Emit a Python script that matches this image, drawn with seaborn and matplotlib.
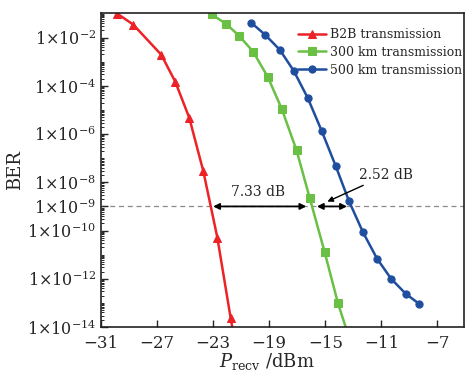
import numpy as np
import pandas as pd
import matplotlib
matplotlib.use("Agg")
import matplotlib.pyplot as plt
import seaborn as sns
from matplotlib.ticker import FixedLocator, LogLocator, NullFormatter, FixedFormatter

# ---- data ----
b2b_x = [-29.85, -28.7, -26.7, -25.7, -24.7, -23.7, -22.7, -21.75, -20.75]
b2b_exp = [-1.0, -1.46, -2.71, -3.83, -5.33, -7.54, -10.29, -13.63, -16.9]

km300_x = [-23.1, -22.1, -21.15, -20.15, -19.1, -18.1, -17.05, -16.1, -15.05, -14.1, -13.1]
km300_exp = [-1.04, -1.42, -1.92, -2.58, -3.63, -4.96, -6.67, -8.67, -10.88, -13.0, -14.8]

km500_x = [-20.3, -19.3, -18.25, -17.25, -16.25, -15.25, -14.25, -13.3, -12.3, -11.3, -10.3, -9.25, -8.3]
km500_exp = [-1.375, -1.875, -2.5, -3.375, -4.5, -5.875, -7.33, -8.79, -10.08, -11.17, -12.0, -12.625, -13.04]

series_names = ["B2B transmission", "300 km transmission", "500 km transmission"]
series_colors = ["#ec2227", "#6abf45", "#1f4e9e"]
series_markers = ["^", "s", "o"]

xticks = [-31, -27, -23, -19, -15, -11, -7]
ytick_exps = [-2, -4, -6, -8, -9, -10, -12, -14]
threshold = 1e-9
gap_labels = ["7.33 dB", "2.52 dB"]

# ---- build frame ----
rows = []
for name, xs, es in zip(series_names, [b2b_x, km300_x, km500_x], [b2b_exp, km300_exp, km500_exp]):
    for x, e in zip(xs, es):
        rows.append({"P": x, "BER": 10.0 ** e, "series": name})
df = pd.DataFrame(rows)

sns.set_style("ticks")
plt.rcParams["font.family"] = ["DejaVu Serif"]
plt.rcParams["mathtext.fontset"] = "dejavuserif"

fig = plt.figure(figsize=(4.67, 3.78), dpi=100)
ax = fig.add_axes([0.2163, 0.1349, 0.9936 - 0.2163, 0.9656 - 0.1349])

for name, col, mk in zip(series_names, series_colors, series_markers):
    sub = df[df["series"] == name]
    sns.lineplot(data=sub, x="P", y="BER", ax=ax, color=col, marker=mk,
                 markersize=5.2 if mk != "^" else 5.8, markeredgecolor=col,
                 linewidth=1.8, label=name, sort=False)

ax.set_yscale("log")
ax.set_xlim(-31, -5.1)
ax.set_ylim(1e-14, 1.05e-1)

ax.axhline(threshold, color="#888888", linestyle=(0, (4, 3)), linewidth=0.9, zorder=0)

# ticks
ax.xaxis.set_major_locator(FixedLocator(xticks))
ax.set_xticklabels(["\u2212%d" % abs(v) for v in xticks])
ax.yaxis.set_major_locator(FixedLocator([10.0 ** e for e in ytick_exps]))
ax.yaxis.set_major_formatter(FixedFormatter([r"$1{\times}10^{%d}$" % e for e in ytick_exps]))
ax.yaxis.set_minor_locator(LogLocator(base=10, subs=np.arange(1, 10), numticks=50))
ax.yaxis.set_minor_formatter(NullFormatter())
ax.tick_params(axis="x", which="major", direction="in", labelsize=12, length=5, width=1, pad=6)
ax.tick_params(axis="y", which="major", direction="in", labelsize=11.5, length=5, width=1)
ax.tick_params(axis="y", which="minor", direction="in", length=2.5, width=0.7)
for s in ax.spines.values():
    s.set_linewidth(1.2)
    s.set_color("#222222")

ax.set_xlabel(r"$P_{\mathrm{recv}}$ /dBm", fontsize=13, labelpad=0)
ax.xaxis.set_label_coords(0.457, -0.075)
ax.set_ylabel("BER", fontsize=13, labelpad=2)

# annotations
arrow_kw = dict(arrowstyle="<|-|>", color="black", lw=1.3, mutation_scale=9, shrinkA=0, shrinkB=0)
ax.annotate("", xy=(-23.0, threshold), xytext=(-16.35, threshold), arrowprops=arrow_kw)
ax.annotate("", xy=(-15.6, threshold), xytext=(-13.45, threshold), arrowprops=arrow_kw)
ax.text(-19.8, 10 ** -8.4, gap_labels[0], fontsize=10, ha="center", va="center")
ax.annotate(gap_labels[1], xy=(-14.85, 10 ** -8.8), xytext=(-12.6, 10 ** -7.7),
            fontsize=10, ha="left", va="center",
            arrowprops=dict(arrowstyle="-|>", color="black", lw=1.0, mutation_scale=8,
                            shrinkA=0, shrinkB=0))

leg = ax.legend(loc="upper right", frameon=False, fontsize=9, handlelength=2.2,
                handletextpad=0.3, labelspacing=0.38, borderaxespad=0.0,
                bbox_to_anchor=(1.008, 0.968))

fig.savefig("out.png", dpi=100)
